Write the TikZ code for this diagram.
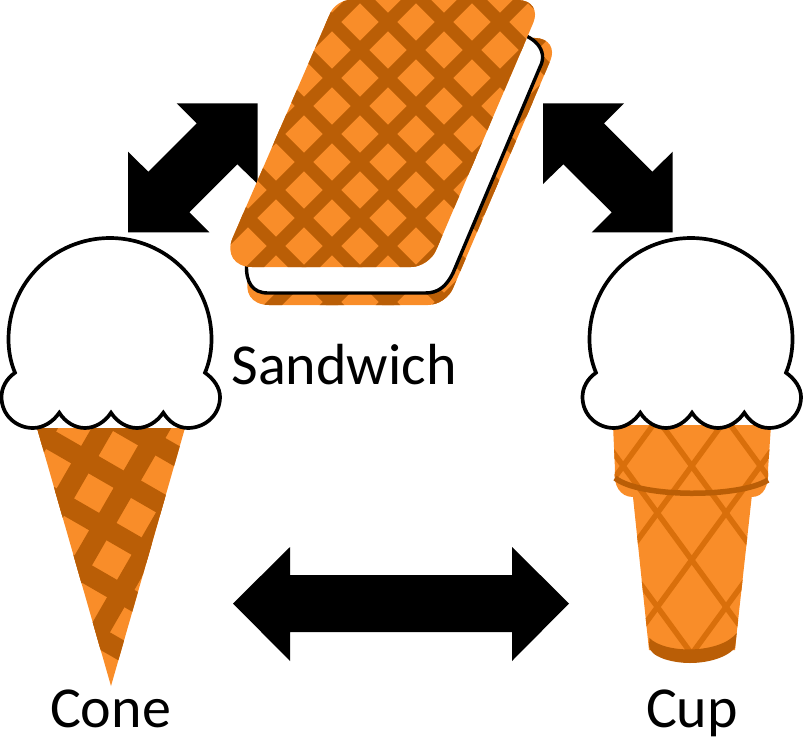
\documentclass[tikz,border=0pt]{standalone}
\usepackage{fontspec}
\setmainfont{Carlito}
\definecolor{wafer}{HTML}{F98D29}
\definecolor{waferdark}{HTML}{BA5E06}
\definecolor{cupline}{HTML}{D96F0B}
\tikzset{
  blockarrow/.style={fill=black,draw=none},
  scoop/.style={fill=white,draw=black,line width=3.7pt,line join=miter},
  waferfill/.style={fill=wafer,draw=none},
  waferband/.style={draw=waferdark,line width=13pt},
  coneband/.style={draw=waferdark,line width=20pt},
  cupband/.style={draw=cupline,line width=5.5pt},
  caption/.style={font=\fontsize{58}{62}\selectfont,anchor=base,inner sep=0pt,text=black}
}
\newcommand{\scoopshape}[1]{%
  \draw[scoop,shift={(#1,0)}] (15,372.7)
    .. controls (10.5,362) and (8.5,351) .. (8.5,339)
    .. controls (8.5,283) and (54,238) .. (110,238)
    .. controls (166,238) and (211.5,283) .. (211.5,339)
    .. controls (211.5,351) and (209.5,362) .. (205,372.7)
    .. controls (214,379) and (220,388) .. (220,397)
    .. controls (220,415) and (205,428) .. (188,428)
    .. controls (178,428) and (169,422) .. (163.3,412.7)
    .. controls (157,422) and (147,428) .. (137,428)
    .. controls (127,428) and (117,422) .. (111,412.7)
    .. controls (105,422) and (95,428) .. (85,428)
    .. controls (75,428) and (65,422) .. (59.3,412.7)
    .. controls (53,422) and (43,428) .. (33,428)
    .. controls (16,428) and (1.5,415) .. (1.5,397)
    .. controls (1.5,388) and (6,379) .. cycle;}
\newcommand{\sandwafer}[2]{%
  \begin{scope}[shift={(#1,#2)}]
    \path[clip] (350,0) -- (518,0)
      .. controls (531.8,0) and (538.6,10.4) .. (533.2,23)
      -- (436,250.4)
      .. controls (432.2,259.5) and (420.9,267) .. (411,267)
      -- (252,267)
      .. controls (234.4,267) and (225.7,253.8) .. (232.7,237.7)
      -- (330.4,12.8)
      .. controls (333.5,5.8) and (342.3,0) .. cycle;
    \fill[wafer] (200,-10) rectangle (560,280);
    \foreach \k in {-6,...,16}{
      \draw[waferband] ({410-#1-#2+56*\k+100},-100) -- ({410-#1-#2+56*\k-400},400);
      \draw[waferband] ({366-#1+#2+56*\k-100},-100) -- ({366-#1+#2+56*\k+400},400);
    }
  \end{scope}}
\begin{document}
\begin{tikzpicture}[x=1pt,y=-1pt]
\useasboundingbox (0,0) rectangle (803,741);
% block arrows
\fill[blockarrow] (176.7,103.3) -- (257.7,103.3) -- (257.7,184) -- (237.3,164.3) -- (189.3,212.3) -- (209.3,232.3) -- (128,232.3) -- (128,151.7) -- (148.3,171.7) -- (196.7,123.3) -- cycle;
\fill[blockarrow] (543,103.3) -- (624,103.3) -- (604,123.3) -- (652.3,171.7) -- (672.7,151.7) -- (672.7,232.3) -- (591.7,232.3) -- (611.7,212.3) -- (563.3,164.3) -- (543,184) -- cycle;
\fill[blockarrow] (233,603.5) -- (290,547) -- (290,575) -- (512,575) -- (512,547) -- (569,603.5) -- (512,661) -- (512,632) -- (290,632) -- (290,661) -- cycle;
% sandwich
\sandwafer{17}{38}
\draw[fill=white,draw=black,line width=3.4pt] (515,33)
  .. controls (533,35) and (549,50) .. (540,67)
  -- (453,273)
  .. controls (446,287) and (438,293) .. (425,293)
  -- (268,293)
  .. controls (252,293) and (246,282) .. (246.5,265)
  -- cycle;
\sandwafer{0}{0}
% cone
\begin{scope}
  \clip (37,428) -- (185,428) -- (111,686) -- cycle;
  \fill[wafer] (30,420) rectangle (190,690);
  \foreach \k in {-5,...,6}{
    \draw[coneband] ({118.3+49*(\k+.5)*.866+150},{450.7+49*(\k+.5)*.5-260}) -- ({118.3+49*(\k+.5)*.866-150},{450.7+49*(\k+.5)*.5+260});
    \draw[coneband] ({118.3-49*(\k+.5)*.5-260},{450.7+49*(\k+.5)*.866-150}) -- ({118.3-49*(\k+.5)*.5+260},{450.7+49*(\k+.5)*.866+150});
  }
\end{scope}
\scoopshape{0}
% cup
\begin{scope}
  \path[clip] (613,425) -- (771,425) -- (768,470) .. controls (769,485) and (764,497) .. (751.7,497) -- (736.7,633) -- (735,650) -- (649,650) -- (633,497) .. controls (620,497) and (613,485) .. (615,470) -- cycle;
  \fill[wafer] (600,420) rectangle (780,670);
  \foreach \j in {-4,...,4}{
    \draw[cupband] ({691.7-34.3*\j-34.3*5},{560+47*\j-47*5}) -- ({691.7-34.3*\j+34.3*5},{560+47*\j+47*5});
    \draw[cupband] ({691.7+34.3*\j+34.3*5},{560+47*\j-47*5}) -- ({691.7+34.3*\j-34.3*5},{560+47*\j+47*5});
  }
\end{scope}
\fill[waferdark] (649.5,638) .. controls (665,654) and (720,654) .. (736.7,633) -- (735,648) .. controls (725,659) and (705,663) .. (690,663) .. controls (672,663) and (650,657) .. (649,646) -- cycle;
\draw[waferdark,line width=5.5pt] (615,478) .. controls (640,498) and (740,498) .. (768,480);
\scoopshape{581}
% labels
\node[caption] (sandwichlabel) at (344,384.5) {Sandwich};
\node[caption] (conelabel) at (110.5,727) {Cone};
\node[caption] (cuplabel) at (692,727) {Cup};
\end{tikzpicture}
\end{document}
